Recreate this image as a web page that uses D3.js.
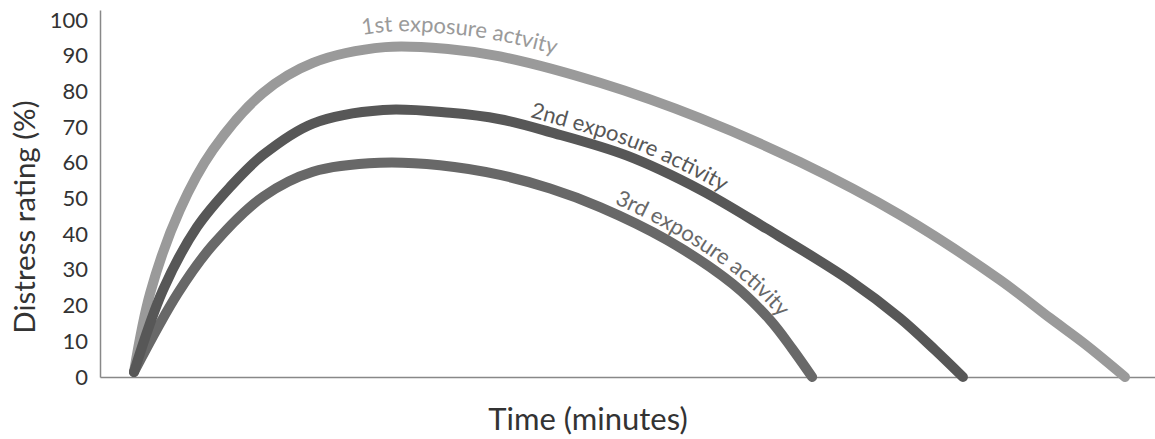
<!DOCTYPE html>
<html><head><meta charset="utf-8">
<script src="https://cdn.jsdelivr.net/npm/d3@7"></script>
<style>body{margin:0;background:#fff;} svg{display:block;font-family:Lato, "Noto Sans", sans-serif;}</style>
</head><body><svg id="c" width="1155" height="439"></svg>
<script>
const seriesNames = ["1st exposure actvity", "2nd exposure activity", "3rd exposure activity"];
const seriesColors = ["#9a9a9a", "#575757", "#686868"];
const times1 = [1.03, 1.52, 2.42, 3.42, 4.94, 6.45, 8.64, 10.61, 12.12, 15.15, 18.18, 21.21, 24.24, 27.27, 28.79, 29.85, 31.06];
const values1 = [1.4, 23.5, 46.8, 63.6, 79.6, 88, 92.4, 91.8, 89.8, 82.4, 72.5, 60.2, 45.4, 27.2, 16.5, 9.2, 0];
const times2 = [1.03, 1.91, 2.94, 3.94, 4.94, 6.45, 8.58, 10.61, 12.12, 13.64, 15.97, 18.18, 20.21, 22.73, 24.24, 25.3, 26.15];
const values2 = [1.4, 24.4, 42, 53.2, 62.2, 71, 74.8, 74, 72.2, 68.6, 62, 52.5, 41.5, 27, 16.5, 7.6, 0];
const times3 = [1.03, 2.36, 3.42, 4.94, 6.45, 8.48, 10.3, 12.12, 13.64, 15.15, 17.18, 19.18, 20.3, 20.97, 21.58];
const values3 = [1.4, 23.5, 37, 50.5, 57.5, 60, 59.3, 56.6, 52.8, 47.6, 38.4, 26, 16, 8, 0];
const labelStartTimes = [8.0, 13.05, 15.6];
const labelOffsets = [15, 9, 9];
const yTicks = [0, 10, 20, 30, 40, 50, 60, 70, 80, 90, 100];
const xTitle = "Time (minutes)";
const yTitle = "Distress rating (%)";

const svg = d3.select("#c");
const x = d3.scaleLinear().domain([0, 32]).range([100, 1156]);
const y = d3.scaleLinear().domain([0, 102.8]).range([377, 10]);

// axes
const yAx = svg.append("g").attr("transform", "translate(100,0)")
  .call(d3.axisLeft(y).tickValues(yTicks).tickSize(0).tickPadding(12).tickSizeOuter(0));
yAx.select(".domain").attr("stroke", "#888").attr("stroke-width", 1.5);
yAx.selectAll("text").attr("font-size", 22).attr("fill", "#333").attr("font-family", "Lato");

const xAx = svg.append("g").attr("transform", "translate(0,377)")
  .call(d3.axisBottom(x).tickValues([]).tickSizeOuter(0));
xAx.select(".domain").attr("stroke", "#888").attr("stroke-width", 1.5);

svg.append("text").attr("x", 588).attr("y", 430).attr("text-anchor", "middle")
  .attr("font-size", 31).attr("fill", "#333").text(xTitle);
svg.append("text").attr("transform", "translate(35,217) rotate(-90)").attr("text-anchor", "middle")
  .attr("font-size", 29.5).attr("fill", "#333").text(yTitle);

const series = [
  times1.map((t, i) => [t, values1[i]]),
  times2.map((t, i) => [t, values2[i]]),
  times3.map((t, i) => [t, values3[i]])
];
const line = d3.line().x(d => x(d[0])).y(d => y(d[1])).curve(d3.curveCatmullRom.alpha(0.5));
const drawOrder = [0, 2, 1];
const paths = [];
drawOrder.forEach(i => {
  paths[i] = svg.append("path").attr("d", line(series[i])).attr("fill", "none")
    .attr("stroke", seriesColors[i]).attr("stroke-width", 10).attr("stroke-linecap", "round");
});

const defs = svg.append("defs");
series.forEach((s, i) => {
  const node = paths[i].node();
  const L = node.getTotalLength();
  const N = 600, off = labelOffsets[i];
  const pts = [];
  for (let k = 0; k <= N; k++) {
    const l = L * k / N;
    const p = node.getPointAtLength(l);
    const p2 = node.getPointAtLength(Math.min(L, l + 1));
    const p1 = node.getPointAtLength(Math.max(0, l - 1));
    let dx = p2.x - p1.x, dy = p2.y - p1.y; const m = Math.hypot(dx, dy) || 1;
    dx /= m; dy /= m;
    pts.push([p.x + off * dy, p.y - off * dx]);
  }
  const id = "lp" + i;
  defs.append("path").attr("id", id).attr("d", d3.line()(pts));
  const tx = x(labelStartTimes[i]);
  let acc = 0;
  for (let k = 1; k < pts.length; k++) {
    if (pts[k][0] >= tx) break;
    acc += Math.hypot(pts[k][0] - pts[k-1][0], pts[k][1] - pts[k-1][1]);
  }
  svg.append("text").attr("font-size", 22).attr("fill", seriesColors[i])
    .append("textPath").attr("href", "#" + id).attr("startOffset", acc).text(seriesNames[i]);
});
</script></body></html>
